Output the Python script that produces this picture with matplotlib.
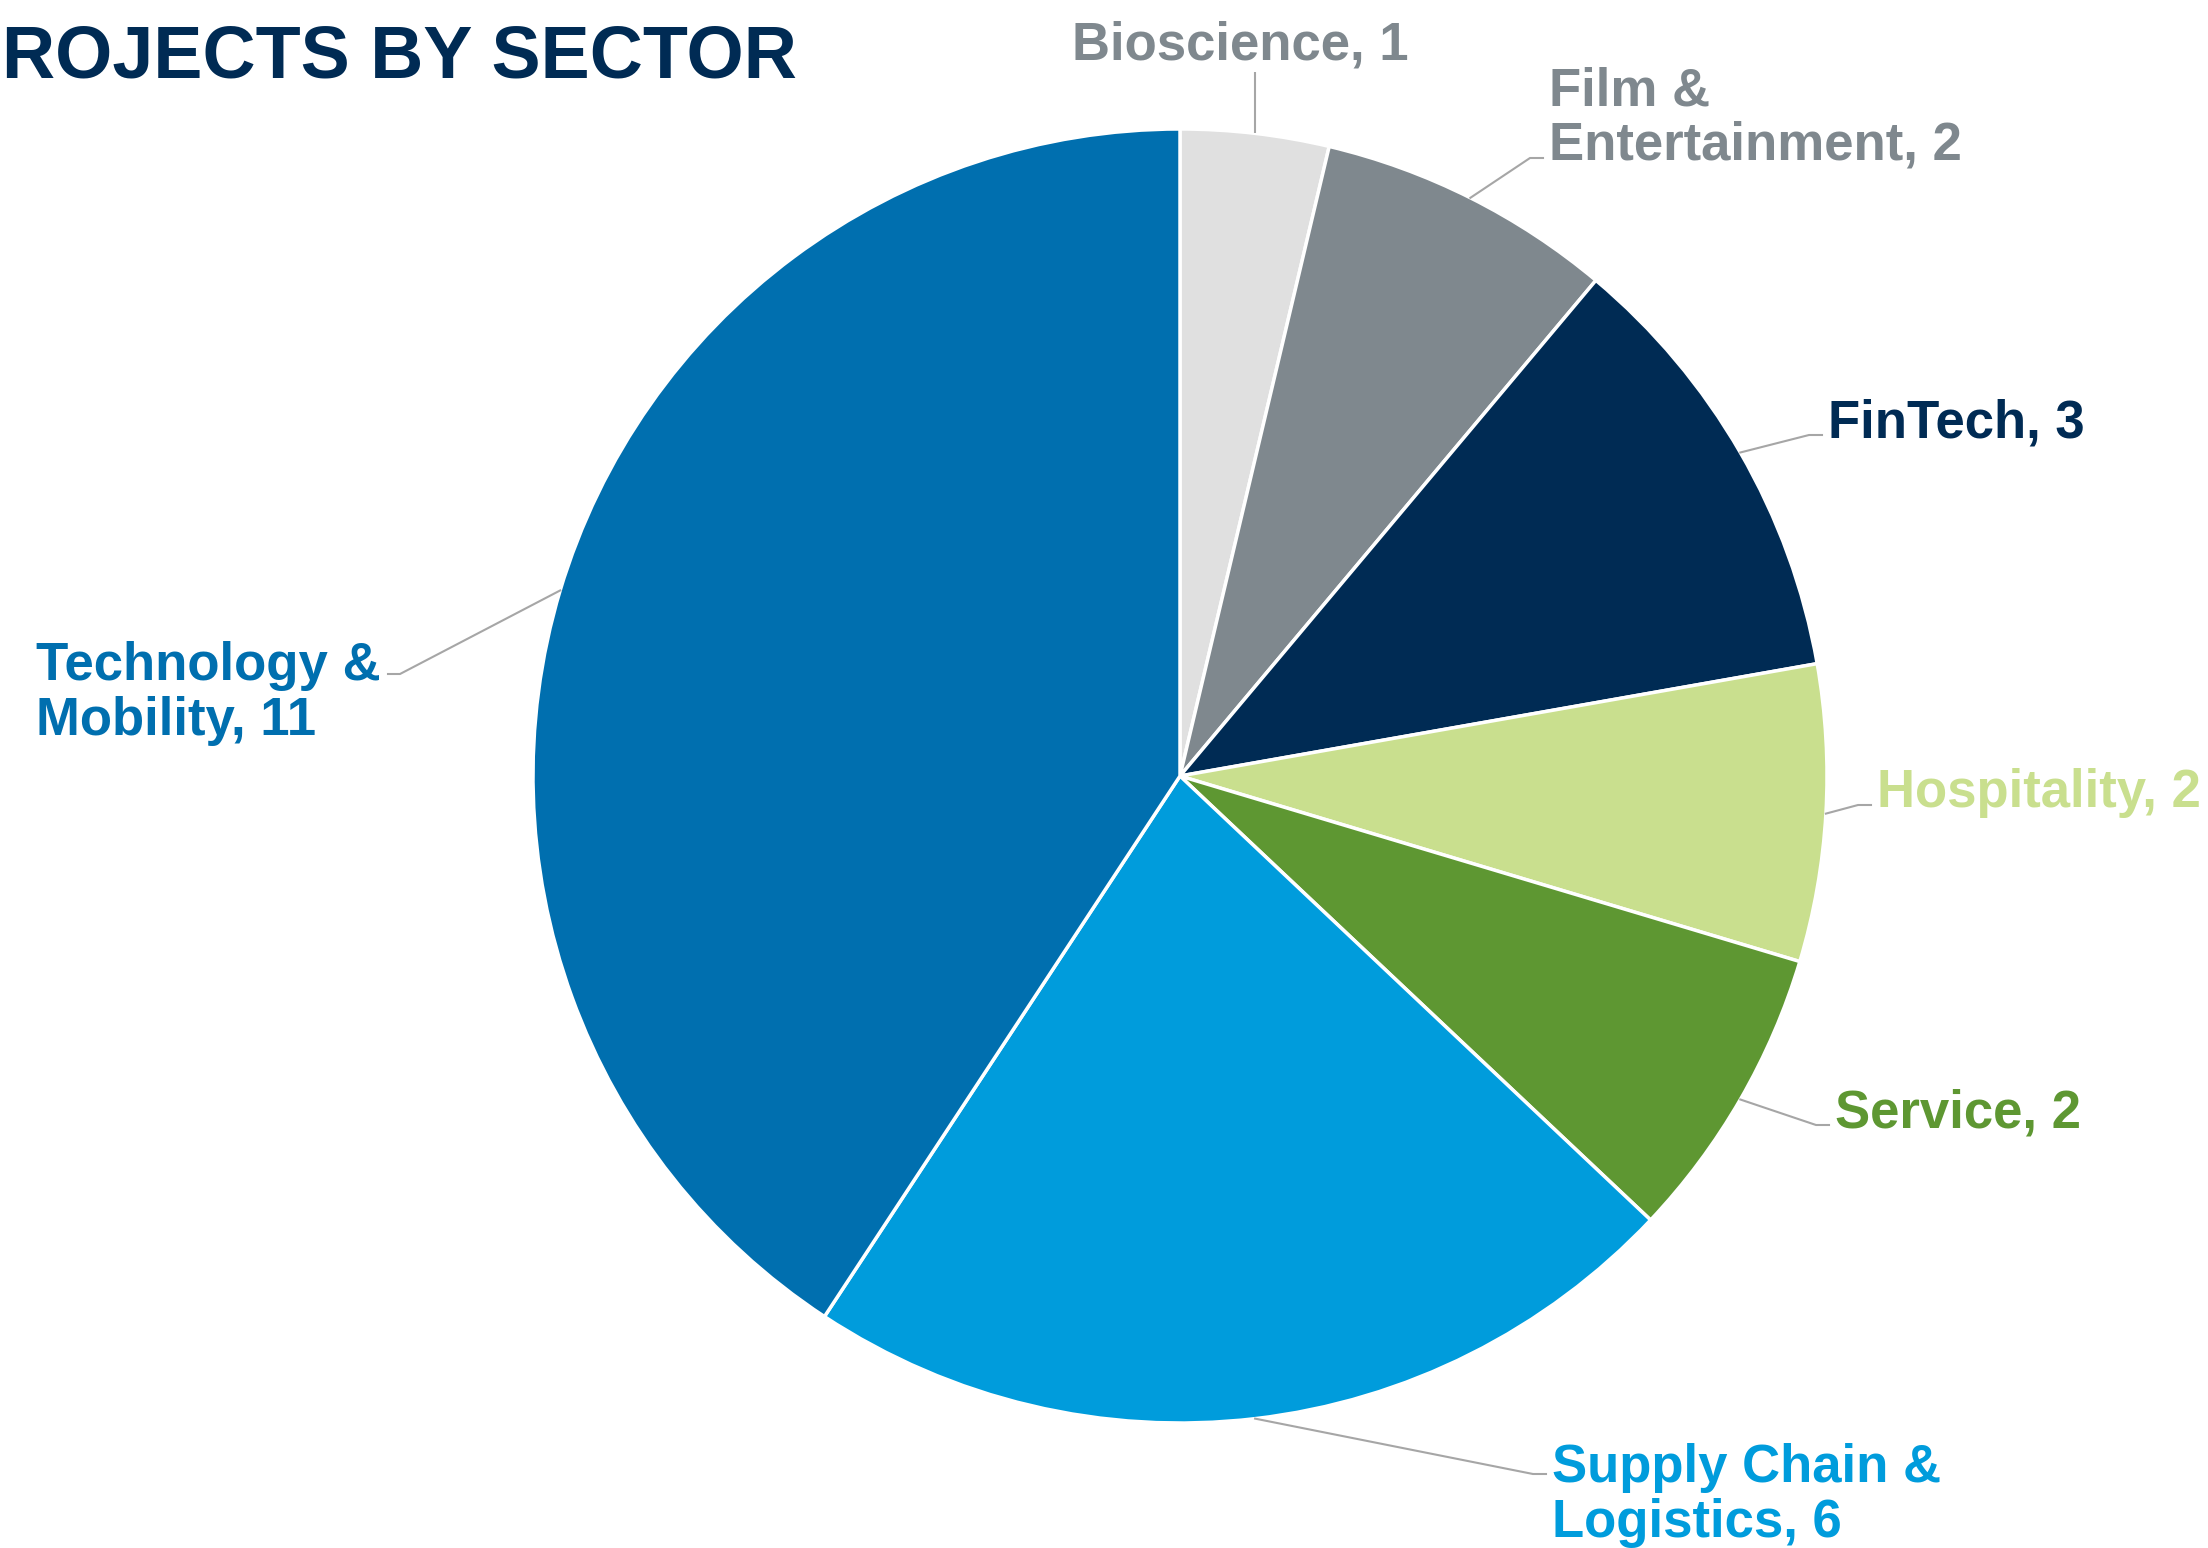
import matplotlib
matplotlib.use("Agg")
import matplotlib.pyplot as plt
import numpy as np

W, H = 2208, 1548

sectors = ["Bioscience", "Film &\nEntertainment", "FinTech", "Hospitality",
           "Service", "Supply Chain &\nLogistics", "Technology &\nMobility"]
projects = [1, 2, 3, 2, 2, 6, 11]
slice_colors = ["#E0E0E0", "#7F888E", "#002B54", "#C9DF8E",
                "#5E9732", "#009CDC", "#006FAF"]
label_colors = ["#7F888E", "#7F888E", "#002B54", "#C9DF8E",
                "#5E9732", "#009CDC", "#006FAF"]

# label placement in pixel units (left x, baseline y of the line the leader meets)
label_pos = [(1072, 59), (1549, 160), (1828, 437), (1877, 807),
             (1835, 1127), (1552, 1476), (36, 674)]

plt.rcParams['font.family'] = ['Liberation Sans', 'DejaVu Sans']

CX, CY, R = 1180, 776, 647
FS = 38
LINE = 61
LEADER = "#A6A6A6"

fig = plt.figure(figsize=(W / 100, H / 100), dpi=100)
ax = fig.add_axes([0, 0, 1, 1])
ax.set_xlim(0, W)
ax.set_ylim(0, H)
ax.set_aspect("equal")
ax.axis("off")

wedges, _ = ax.pie(projects, colors=slice_colors, startangle=90, counterclock=False,
                   center=(CX, H - CY), radius=R,
                   wedgeprops=dict(edgecolor="white", linewidth=2.5))
ax.set_xlim(0, W)
ax.set_ylim(0, H)


def py(y):
    return H - y


for i, (w, name, n) in enumerate(zip(wedges, sectors, projects)):
    mid = np.deg2rad((w.theta1 + w.theta2) / 2)
    ax_x = CX + R * np.cos(mid)
    ax_y = CY - R * np.sin(mid)
    lx, ly = label_pos[i]
    text = f"{name}, {n}"
    nlines = text.count("\n")
    if i == 0:
        # vertical leader straight down from the label
        ax.plot([ax_x, ax_x], [py(ax_y), py(72)], color=LEADER, lw=1.5,
                solid_capstyle="butt")
    elif i == len(wedges) - 1:
        ex = lx + 352
        ax.plot([ax_x, ex + 12, ex], [py(ax_y), py(ly), py(ly)], color=LEADER, lw=1.5)
    else:
        ax.plot([ax_x, lx - 19, lx - 6], [py(ax_y), py(ly - 2), py(ly - 2)],
                color=LEADER, lw=1.5)
    # baseline of the bottom line
    if i == len(wedges) - 1 or i == 5:
        base = ly + LINE * nlines
    else:
        base = ly
    ax.text(lx, py(base), text, color=label_colors[i], fontsize=FS,
            fontweight="bold", ha="left", va="baseline", linespacing=1.12)

ax.text(2, py(78), "ROJECTS BY SECTOR", color="#002B54", fontsize=53,
        fontweight="bold", ha="left", va="baseline")

fig.savefig("out.png", dpi=100)
